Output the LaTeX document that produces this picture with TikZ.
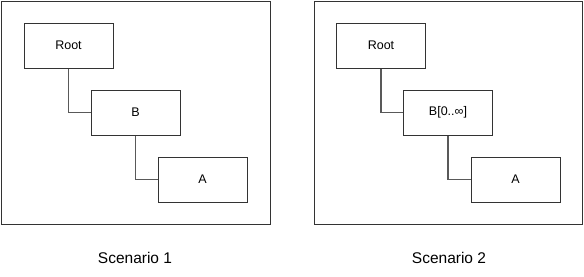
\documentclass[tikz,border=0pt]{standalone}
\usepackage{fontspec}
\setmainfont{Liberation Sans}
\begin{document}
\begin{tikzpicture}[x=1pt,y=-1pt,
  frame/.style={draw=black!80, line width=1pt},
  box/.style={draw=black!80, line width=1pt, fill=white, minimum width=89pt, minimum height=45pt, inner sep=0pt, font=\fontsize{12.5}{14}\selectfont},
  conn/.style={draw=black!65, line width=1.4pt},
  caption/.style={font=\fontsize{15.5}{18}\selectfont}]
\useasboundingbox (0,0) rectangle (584,276);
\fill[white] (0,0) rectangle (584,276);
% Scenario 1
\draw[frame] (1.5,1.5) rectangle (270,224.5);
\node[box] (r1) at (68.5,45.5) {Root};
\node[box] (b1) at (135.5,112.5) {B};
\node[box] (a1) at (202.5,179.5) {A};
\draw[conn] (r1.south) |- (b1.west);
\draw[conn] (b1.south) |- (a1.west);
\node[caption] (c1) at (135,258) {Scenario 1};
% Scenario 2
\draw[frame] (314,1.5) rectangle (582.5,224.5);
\node[box] (r2) at (381,45.5) {Root};
\node[box] (b2) at (448,112.5) {B[0..\symbol{"221E}]};
\node[box] (a2) at (515.5,179.5) {A};
\draw[conn] (r2.south) |- (b2.west);
\draw[conn] (b2.south) |- (a2.west);
\node[caption] (c2) at (449,258) {Scenario 2};
\end{tikzpicture}
\end{document}
